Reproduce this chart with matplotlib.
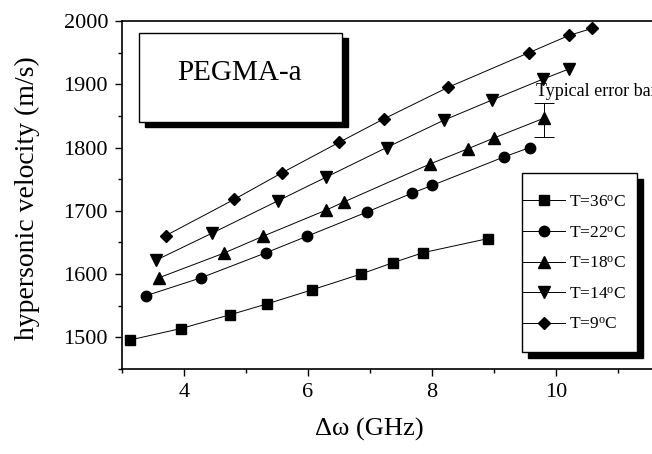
import matplotlib
matplotlib.use('Agg')
import matplotlib.pyplot as plt
from matplotlib.patches import Rectangle
from matplotlib.ticker import MultipleLocator

plt.rcParams['font.family'] = ['Liberation Serif', 'DejaVu Serif']
plt.rcParams['mathtext.fontset'] = 'custom'
plt.rcParams['mathtext.rm'] = 'Liberation Serif'
plt.rcParams['mathtext.it'] = 'Liberation Serif:italic'

### data ###
x36 = [3.13, 3.95, 4.75, 5.34, 6.06, 6.85, 7.37, 7.86, 8.90]
v36 = [1496, 1514, 1536, 1553, 1575, 1600, 1618, 1634, 1656]

x22 = [3.39, 4.27, 5.33, 5.99, 6.95, 7.68, 8.00, 9.16, 9.58]
v22 = [1566, 1594, 1634, 1660, 1698, 1728, 1740, 1785, 1800]

x18 = [3.59, 4.64, 5.28, 6.29, 6.58, 7.97, 8.58, 9.00, 9.80]
v18 = [1594, 1633, 1660, 1701, 1714, 1774, 1798, 1815, 1846]

x14 = [3.55, 4.46, 5.52, 6.29, 7.27, 8.19, 8.97, 9.79, 10.21]
v14 = [1622, 1665, 1716, 1753, 1800, 1843, 1875, 1908, 1924]

x9 = [3.71, 4.81, 5.58, 6.50, 7.22, 8.26, 9.57, 10.21, 10.58]
v9 = [1661, 1718, 1760, 1808, 1845, 1895, 1950, 1977, 1988]

labels = ['T=36$^{\\mathrm{o}}$C', 'T=22$^{\\mathrm{o}}$C', 'T=18$^{\\mathrm{o}}$C',
          'T=14$^{\\mathrm{o}}$C', 'T=9$^{\\mathrm{o}}$C']

# typical error bar sits on the last T=18 point
err_x = 9.80
err_v = 1844
err_half = 27

### plot ###
fig = plt.figure(figsize=(6.52, 4.54), dpi=100)
ax = fig.add_axes([0.187, 0.187, 0.813, 0.767])

series = [(x36, v36, 's', 6.5), (x22, v22, 'o', 7.5), (x18, v18, '^', 8),
          (x14, v14, 'v', 8), (x9, v9, 'D', 6.5)]
for (xs, vs, mk, ms), lab in zip(series, labels):
    ax.plot(xs, vs, color='black', lw=0.7, marker=mk, ms=ms, mfc='black',
            mec='black', label=lab)

ax.errorbar([err_x], [err_v], yerr=[err_half], fmt='none', ecolor='black',
            elinewidth=0.7, capsize=7, capthick=0.7)
ax.text(err_x - 0.12, 1888, 'Typical error bar', fontsize=13, ha='left',
        va='center', clip_on=False)

ax.set_xlim(3.0, 11.55)
ax.set_ylim(1450, 2000)
ax.xaxis.set_major_locator(MultipleLocator(2))
ax.xaxis.set_minor_locator(MultipleLocator(1))
ax.yaxis.set_major_locator(MultipleLocator(100))
ax.yaxis.set_minor_locator(MultipleLocator(50))
ax.tick_params(which='both', direction='out', labelsize=16, width=1)
ax.tick_params(which='major', length=5, pad=5)
ax.tick_params(which='minor', length=3)
ax.spines['right'].set_visible(False)
for s in ['left', 'top', 'bottom']:
    ax.spines[s].set_linewidth(1.2)

ax.set_xlabel('\u0394\u03c9 (GHz)', fontsize=19)
ax.xaxis.set_label_coords(0.466, -0.14)
ax.set_ylabel('hypersonic velocity (m/s)', fontsize=20)
ax.yaxis.set_label_coords(-0.155, 0.49)

# title box with a solid black shadow
ax.add_patch(Rectangle((0.044, 0.695), 0.382, 0.256, transform=ax.transAxes,
                       facecolor='black', edgecolor='black', zorder=4))
ax.add_patch(Rectangle((0.0326, 0.711), 0.382, 0.255, transform=ax.transAxes,
                       facecolor='white', edgecolor='black', lw=1, zorder=4.5))
ax.text(0.2226, 0.85, 'PEGMA-a', transform=ax.transAxes, fontsize=21,
        ha='center', va='center', zorder=5)

# legend box (drawn by hand so it gets the same thick shadow)
ax.add_patch(Rectangle((0.7666, 0.031), 0.217, 0.516, transform=ax.transAxes,
                       facecolor='black', edgecolor='black', zorder=4.8,
                       clip_on=False))
ax.add_patch(Rectangle((0.7553, 0.048), 0.217, 0.516, transform=ax.transAxes,
                       facecolor='white', edgecolor='black', lw=1, zorder=4.9,
                       clip_on=False))
leg = ax.legend(loc='center left', bbox_to_anchor=(0.7553, 0.303), fontsize=12.5,
                frameon=False, handlelength=2.45, handletextpad=0.25,
                labelspacing=0.83, borderpad=0, borderaxespad=0)
leg.set_zorder(5)

fig.savefig('out.png', dpi=100)
